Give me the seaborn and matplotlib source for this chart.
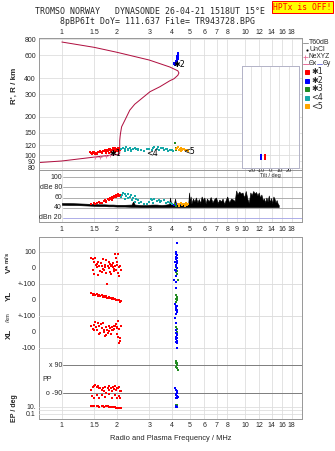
import numpy as np
import pandas as pd
import matplotlib
matplotlib.use("Agg")
import matplotlib.pyplot as plt
import matplotlib.transforms as mtransforms
from matplotlib.lines import Line2D
from matplotlib.ticker import NullLocator, FixedLocator
import seaborn as sns

sns.set_style("white")
plt.rcParams['font.family'] = ['Liberation Sans', 'DejaVu Sans']

# ---------------- data ----------------
freq_ticks = [1, 1.5, 2, 3, 4, 5, 6, 7, 8, 10, 12, 14, 16, 18]
freq_ticks_mid = [1, 1.5, 2, 3, 4, 5, 6, 7, 8, 9, 10, 12, 14, 16, 18]
range_ticks = [800, 600, 400, 300, 200, 150, 120, 100, 90, 80]
dbe_ticks = [100, 80, 60, 40]
dbe_tick_labels = ["100", "dBe 80", "60", "40"]
dbn_level = 20
tilt_ticks = [-20, -10, 0, 10, 20]

# N(h) profile (plasma frequency vs real height)
profile_f = [0.75, 1.0, 1.5, 1.8, 2.05, 2.07, 2.07, 2.08, 2.09, 2.12, 2.21, 2.35, 2.5, 2.67, 3.03,
             3.43, 3.89, 4.1, 4.3, 4.36, 4.3, 4.1, 3.89, 3.0, 2.0, 1.5, 1.0]
profile_r = [88, 90.5, 97, 100, 102, 104, 130, 140, 148, 167, 188, 225, 250, 270, 313,
             342, 381, 395, 420, 438, 455, 470, 487, 552, 634, 693, 762]

nexyz_f = [1.51, 1.62, 1.74, 1.84]
nexyz_r = [97.5, 98, 99, 100]

# echoes: virtual range
e1_f = [1.43, 1.45, 1.47, 1.49, 1.5, 1.52, 1.54, 1.56, 1.58, 1.6, 1.62, 1.64, 1.66, 1.68, 1.7, 1.72,
        1.74, 1.76, 1.78, 1.8, 1.82, 1.84, 1.86, 1.88, 1.9, 1.92, 1.94, 1.96, 1.98, 2.0, 2.02, 2.04,
        2.06, 2.08, 1.46, 1.55, 1.65, 1.75, 1.85, 1.95, 2.03, 1.9, 2.0, 1.8]
e1_r = [106, 105, 107, 104, 106, 103, 104, 105, 106, 107, 108, 107, 106, 109, 108, 110,
        109, 111, 108, 112, 110, 113, 109, 111, 114, 110, 112, 115, 111, 113, 114, 112,
        115, 111, 103, 102, 104, 105, 106, 107, 109, 105, 108, 104]
e2_f = [4.3, 4.3, 4.31, 4.32, 4.3, 4.28, 4.27, 4.26, 4.25, 4.24, 4.22, 4.2, 4.18, 4.16, 4.14,
        4.12, 4.1, 4.08, 4.25, 4.28, 4.3, 4.22, 4.18, 4.15, 4.26, 4.24]
e2_r = [625, 610, 595, 580, 565, 555, 545, 540, 530, 525, 520, 515, 512, 508, 505,
        510, 515, 520, 570, 590, 600, 545, 530, 525, 560, 550]
e3_f = [4.14, 4.2, 4.22, 4.18]
e3_r = [124, 112, 110, 114]
e4_f = [2.1, 2.15, 2.2, 2.25, 2.3, 2.35, 2.4, 2.45, 2.5, 2.55, 2.6, 2.7, 2.8, 2.9, 3.0, 3.1, 3.2,
        3.3, 3.4, 3.5, 3.6, 3.7, 3.8, 3.9, 4.0, 4.05, 2.2, 2.3, 2.4, 2.6, 3.15, 3.35, 3.55, 3.75]
e4_r = [112, 114, 113, 116, 112, 114, 111, 113, 115, 112, 110, 111, 109, 112, 113, 110, 116,
        112, 111, 114, 110, 112, 109, 111, 110, 109, 109, 110, 108, 113, 114, 117, 115, 113]
e5_f = [4.22, 4.28, 4.35, 4.4, 4.45, 4.5, 4.55, 4.6, 4.7, 4.8, 4.9, 4.3, 4.45, 4.65]
e5_r = [112, 114, 110, 113, 111, 114, 110, 112, 111, 110, 109, 116, 108, 113]

# tilt inset
tilt_deg = [-5.2, -9.7]
tilt_lo = [92, 92]
tilt_hi = [102, 102]

# amplitude (dBe)
amp1_f = [1.45, 1.5, 1.55, 1.6, 1.65, 1.7, 1.72, 1.75, 1.78, 1.8, 1.83, 1.85, 1.88, 1.9, 1.93,
          1.95, 1.98, 2.0, 2.02, 2.05, 2.07, 1.52, 1.62, 1.74, 1.87, 1.97, 2.04]
amp1_v = [48, 50, 49, 51, 50, 53, 55, 52, 57, 55, 60, 58, 62, 59, 63, 61, 66, 64, 68, 63, 66,
          47, 49, 54, 56, 62, 65]
amp4_f = [2.1, 2.13, 2.17, 2.2, 2.25, 2.3, 2.35, 2.4, 2.45, 2.5, 2.55, 2.6, 2.65, 2.7, 2.8, 2.9,
          3.0, 3.05, 3.1, 3.2, 3.3, 3.4, 3.5, 3.6, 3.7, 3.8, 3.9, 4.0, 2.2, 2.3, 2.42, 2.52, 3.15, 3.45]
amp4_v = [62, 66, 70, 68, 64, 67, 62, 65, 60, 63, 58, 55, 50, 52, 48, 47, 52, 58, 55, 57, 54,
          56, 53, 55, 50, 52, 49, 48, 58, 60, 55, 52, 50, 51]
amp5_f = [4.22, 4.3, 4.38, 4.45, 4.52, 4.6, 4.68, 4.75, 4.82, 4.9, 4.35, 4.55, 4.7]
amp5_v = [46, 48, 47, 49, 46, 48, 47, 49, 46, 48, 44, 45, 44]
amp2_f = [4.12, 4.18]
amp2_v = [45, 47]
amp3_f = [4.15, 4.2]
amp3_v = [48, 44]

noise_f = [1.0, 1.1, 1.2, 1.3, 1.4, 1.5, 1.6, 1.7, 1.8, 1.9, 2.0, 2.2, 2.4, 2.45, 2.5, 2.7, 2.9,
           3.1, 3.3, 3.5, 3.7, 3.85, 3.9, 3.95, 4.1, 4.15, 4.2, 4.5, 4.9, 4.95, 5.0, 5.05, 5.1,
           5.2, 5.3, 5.4, 5.5, 5.6, 5.7, 5.8, 5.9, 6.0, 6.1, 6.2, 6.35, 6.5, 6.65, 6.8, 6.95,
           7.1, 7.25, 7.4, 7.55, 7.7, 7.85, 8.0, 8.2, 8.4, 8.6, 8.8, 8.95, 9.1, 9.3, 9.5, 9.7,
           9.9, 10.1, 10.3, 10.5, 10.7, 10.9, 11.1, 11.3, 11.5, 11.7, 11.9, 12.1, 12.3, 12.5,
           12.7, 12.9, 13.1, 13.3, 13.5, 13.7, 13.9, 14.1, 14.3, 14.5, 14.7, 14.9, 15.1, 15.3]
noise_hi = [49, 49, 48.5, 48, 47.5, 47, 46.5, 46.5, 46, 46, 45.5, 45.5, 46, 52, 46, 45, 45,
            46, 46, 45, 46, 47, 60, 47, 48, 58, 48, 46, 47, 70, 50, 62, 48,
            58, 52, 60, 50, 57, 49, 62, 55, 60, 48, 58, 52, 61, 50, 57, 60,
            49, 56, 52, 58, 47, 55, 62, 50, 58, 56, 53, 74, 66, 72, 68, 70,
            60, 73, 58, 49, 70, 65, 73, 68, 71, 64, 70, 60, 66, 55, 58,
            50, 60, 52, 64, 50, 59, 48, 62, 58, 50, 55, 48, 45]
noise_lo = [45.5, 45, 45, 44.5, 44, 43.5, 43, 43, 42.5, 42.5, 42, 42, 41.5, 41.5, 41.5, 41, 41,
            41, 41, 41, 41, 41, 41, 41, 41, 41, 41, 41, 41, 41, 41, 41, 41,
            41, 41, 41, 41, 41, 41, 41, 41, 41, 41, 41, 41, 41, 41, 41, 41,
            41, 41, 41, 41, 41, 41, 41, 41, 41, 41, 41, 41, 41, 41, 41, 41,
            41, 41, 41, 41, 41, 41, 41, 41, 41, 41, 41, 41, 41, 41, 41,
            41, 41, 41, 41, 41, 41, 41, 41, 41, 41, 41, 41, 41]

# Doppler velocity V* (m/s)
v1_f = [1.45, 1.47, 1.48, 1.5, 1.52, 1.53, 1.55, 1.56, 1.58, 1.6, 1.62, 1.63, 1.65, 1.67, 1.68,
        1.7, 1.72, 1.73, 1.75, 1.77, 1.78, 1.8, 1.82, 1.83, 1.85, 1.86, 1.88, 1.9, 1.91, 1.93,
        1.95, 1.96, 1.98, 2.0, 2.01, 2.03, 2.05, 2.06, 2.08, 2.1, 1.49, 1.57, 1.74, 1.92, 2.02,
        1.97, 1.84, 1.66]
v1_v = [60, 55, -15, 40, 60, 20, 5, 25, -45, 15, -20, 30, 10, -5, 55, -10, 20, 5, -30, -100,
        15, 35, 0, -25, 10, -40, 20, 5, 30, -5, 85, 10, -15, 40, 20, -30, 5, -50, 15, -10,
        -35, 35, 50, -20, 90, 65, 25, -25]
v2_f = [4.25, 4.2, 4.22, 4.24, 4.18, 4.26, 4.2, 4.23, 4.16, 4.28, 4.21, 4.19, 4.25, 4.15, 4.22,
        4.2, 4.12, 4.18]
v2_v = [158, 100, 90, 80, 70, 65, 55, 45, 35, 30, 20, 10, 0, -10, -20, -50, -75, -85]
v3_f = [4.2, 4.25, 4.22, 4.27, 4.18, 4.24, 4.3]
v3_v = [5, 0, -10, -20, -25, -35, -75]

# YL (km)
y1_f = [1.45, 1.47, 1.5, 1.52, 1.55, 1.57, 1.6, 1.62, 1.65, 1.67, 1.7, 1.72, 1.75, 1.77, 1.8,
        1.82, 1.85, 1.87, 1.9, 1.92, 1.95, 1.97, 2.0, 2.02, 2.05, 2.07, 2.1, 1.48, 1.58, 1.68,
        1.78, 1.88, 1.98, 2.08]
y1_v = [45, 35, 40, 30, 35, 28, 32, 25, 30, 20, 25, 18, 22, 15, 18, 10, 12, 8, 10, 5, 6, 2, 3,
        -2, 0, -5, -8, 30, 22, 28, 12, 15, -3, -10]
y2_f = [4.2, 4.15, 4.22, 4.25, 4.2, 4.18, 4.24, 4.27, 4.21, 4.13, 4.19]
y2_v = [73, -25, -35, -40, -50, -60, -65, -75, -85, -110, -145]
y3_f = [4.2, 4.24, 4.28, 4.22, 4.26, 4.18]
y3_v = [30, 20, 10, 5, 0, -10]

# XL (km)
x1_f = [1.45, 1.47, 1.5, 1.52, 1.53, 1.55, 1.57, 1.6, 1.62, 1.63, 1.65, 1.67, 1.7, 1.72, 1.74,
        1.75, 1.77, 1.8, 1.82, 1.84, 1.85, 1.87, 1.9, 1.92, 1.93, 1.95, 1.97, 2.0, 2.01, 2.02,
        2.03, 2.05, 2.07, 2.08, 2.1, 1.49, 1.59, 1.69, 1.79, 1.89, 1.99, 2.04]
x1_v = [40, 20, 45, 60, 30, 10, 55, 35, -5, 50, 25, 55, 10, -25, 30, -20, 15, 40, 5, 25, -10,
        30, 15, 40, 20, 35, 50, 25, -15, 70, -30, 20, -40, -55, 35, 15, -10, 0, -5, 10, 30, -70]
x2_f = [4.22, 4.2, 4.26, 4.24, 4.18, 4.28, 4.21, 4.25, 4.19, 4.23, 4.27]
x2_v = [10, -5, -15, -20, -30, -35, -45, -55, -65, -70, -100]
x3_f = [4.2, 4.25, 4.22, 4.27, 4.23]
x3_v = [30, 20, 10, 0, -15]

# PP (deg)
p1_f = [1.45, 1.47, 1.5, 1.52, 1.55, 1.58, 1.6, 1.62, 1.65, 1.68, 1.7, 1.72, 1.75, 1.78, 1.8,
        1.82, 1.85, 1.87, 1.9, 1.92, 1.95, 1.97, 2.0, 2.02, 2.05, 2.07, 2.1, 1.46, 1.5, 1.55,
        1.6, 1.65, 1.72, 1.8, 1.88, 1.95, 2.0, 2.05, 2.08]
p1_v = [-70, -50, -45, -40, -50, -45, -60, -55, -70, -60, -80, -50, -90, -60, -45, -70, -55,
        -75, -50, -65, -45, -70, -55, -60, -50, -75, -80, -110, -120, -105, -125, -100, -115,
        -95, -120, -105, -125, -110, -120]
p2_f = [4.15, 4.2, 4.25, 4.28, 4.22, 4.18, 4.24, 4.3, 4.2, 4.26]
p2_v = [-60, -70, -80, -90, -95, -100, -110, -115, -120, -125]
p3_f = [4.2, 4.25, 4.22, 4.28, 4.18, 4.24, 4.3]
p3_v = [118, 105, 100, 90, 80, 70, 58]

# EP (deg)
ep1_f = [1.45, 1.5, 1.55, 1.6, 1.65, 1.7, 1.75, 1.8, 1.85, 1.9, 1.95, 2.0, 2.05, 2.1, 1.48,
         1.58, 1.68, 1.78, 1.88, 1.98, 2.08]
ep1_v = [20, 15, 18, 12, 15, 10, 14, 10, 12, 8, 9, 6, 7, 5, 25, 20, 18, 15, 10, 7, 4]
ep2_f = [4.2, 4.25, 4.22]
ep2_v = [12, 10, 15]
ep3_f = [4.18, 4.24, 4.28]
ep3_v = [35, 30, 40]

# ---------------- style ----------------
C_RED, C_BLUE, C_GREEN, C_TEAL, C_ORANGE = "#ff0000", "#0000ff", "#228b22", "#17a8a8", "#ffa500"
C_PROF = "#b01040"
C_PINK = "#e8709a"
C_FRAME = "#9a9a9a"
C_GRID = "#dcdcdc"
C_DBLINE = "#a8a8a8"
TICK_FS = 7
MONO = "DejaVu Sans Mono"

W, H, DPI = 335, 451, 72
fig = plt.figure(figsize=(W / DPI, H / DPI), dpi=DPI)
fig.patch.set_facecolor("white")


def box(l, t, r, b):
    return [l / W, 1 - b / H, (r - l) / W, (b - t) / H]


def fx(px):
    return px / W


def fy(py):
    return 1 - py / H


XLIM = (0.75, 20.5)


def setup_freq(ax, ticks, where):
    ax.set_xscale("log")
    ax.set_xlim(*XLIM)
    ax.xaxis.set_major_locator(FixedLocator(ticks))
    ax.xaxis.set_minor_locator(NullLocator())
    ax.set_xticklabels([("%g" % t) for t in ticks])
    for t in ticks:
        ax.axvline(t, color=C_GRID, lw=0.8, zorder=0)
    ax.tick_params(axis="x", length=0, labelsize=TICK_FS, pad=2,
                   labeltop=(where == "top"), labelbottom=(where == "bottom"))
    for s in ax.spines.values():
        s.set_color(C_FRAME)
        s.set_linewidth(1)


def scat(ax, x, y, c, s=5):
    sns.scatterplot(x=x, y=y, ax=ax, color=c, marker="s", s=s, linewidth=0, legend=False, zorder=3)


# ---------------- top panel: virtual range ----------------
ax_r = fig.add_axes(box(39, 38, 302, 170))
ax_r.set_yscale("log")
ax_r.set_ylim(77, 819)
setup_freq(ax_r, freq_ticks, "top")
ax_r.yaxis.set_major_locator(FixedLocator(range_ticks))
ax_r.yaxis.set_minor_locator(NullLocator())
ax_r.set_yticklabels([str(t) for t in range_ticks])
ax_r.tick_params(axis="y", length=0, labelsize=TICK_FS, pad=3)
for t in range_ticks:
    ax_r.axhline(t, color=C_GRID, lw=0.8, zorder=0)

prof = pd.DataFrame({"f": profile_f, "r": profile_r})
ax_r.plot(prof["f"], prof["r"], color=C_PROF, lw=1.0, zorder=2)
sns.scatterplot(x=nexyz_f, y=nexyz_r, ax=ax_r, color=C_PINK, marker="+", s=10, linewidth=0.8, legend=False, zorder=3)
scat(ax_r, e1_f, e1_r, C_RED)
scat(ax_r, e4_f, e4_r, C_TEAL)
scat(ax_r, e2_f, e2_r, C_BLUE)
scat(ax_r, e3_f, e3_r, C_GREEN)
scat(ax_r, e5_f, e5_r, C_ORANGE)
lab_kw = dict(fontsize=8, va="center", ha="left", color="black", zorder=5, family=["DejaVu Sans"])
ax_r.text(1.83, 103.4, "✱1", **lab_kw)
ax_r.text(2.88, 103.8, "<4", **lab_kw)
ax_r.text(4.09, 514, "✱2", **lab_kw)
ax_r.text(4.58, 107, "<5", **lab_kw)
ax_r.set_xlabel("")
ax_r.set_ylabel("")

# ---------------- amplitude panel ----------------
ax_a = fig.add_axes(box(39, 170, 302, 222))
ax_a.set_ylim(11.3, 114.8)
setup_freq(ax_a, freq_ticks_mid, "bottom")
ax_a.tick_params(axis="x", pad=4)
ax_a.yaxis.set_major_locator(NullLocator())
trans_a = mtransforms.blended_transform_factory(ax_a.transAxes, ax_a.transData)
xin = (63 - 39) / 263
for t, lab in zip(dbe_ticks, dbe_tick_labels):
    ax_a.axhline(t, xmin=xin, color=C_DBLINE, lw=0.9, zorder=1)
    ax_a.text(xin - 0.004, t, lab, transform=trans_a, ha="right", va="center", fontsize=TICK_FS)
ax_a.axhline(dbn_level, xmin=xin, color="#a6a6e6", lw=0.9, zorder=1)
ax_a.text(xin - 0.004, dbn_level, "dBn 20", transform=trans_a, ha="right", va="center", fontsize=TICK_FS)
ax_a.fill_between(noise_f, noise_lo, noise_hi, color="black", lw=0.6, zorder=2)
scat(ax_a, amp1_f, amp1_v, C_RED)
scat(ax_a, amp4_f, amp4_v, C_TEAL)
scat(ax_a, amp5_f, amp5_v, C_ORANGE)
scat(ax_a, amp2_f, amp2_v, C_BLUE)
scat(ax_a, amp3_f, amp3_v, C_GREEN)
ax_a.set_xlabel("")
ax_a.set_ylabel("")

# tilt inset (drawn above the amplitude panel)
ax_t = fig.add_axes(box(242, 66, 299, 168))
ax_t.set_zorder(10)
ax_t.set_facecolor("white")
ax_t.set_xlim(-30, 31)
ax_t.set_yscale("log")
ax_t.set_ylim(79.7, 496)
ax_t.yaxis.set_major_locator(NullLocator())
ax_t.yaxis.set_minor_locator(NullLocator())
ax_t.set_xticks(tilt_ticks)
ax_t.set_xticklabels([str(t) for t in tilt_ticks])
ax_t.tick_params(axis="x", length=0, labelsize=5.5, pad=0.5)
for t in tilt_ticks:
    ax_t.axvline(t, color=C_GRID, lw=0.8, zorder=0)
for r in [120, 100]:
    ax_t.axhline(r, color=C_GRID, lw=0.8, zorder=0)
ax_t.vlines(tilt_deg[0], tilt_lo[0], tilt_hi[0], color=C_RED, lw=2)
ax_t.vlines(tilt_deg[1], tilt_lo[1], tilt_hi[1], color=C_BLUE, lw=2)
ax_t.set_xlabel("Tilt / deg", fontsize=5.5, labelpad=0)
for s in ax_t.spines.values():
    s.set_color("#b4b4c8")
    s.set_linewidth(1)

# ---------------- lower panel ----------------
LOW = box(39, 237, 302, 419)
ax_v = fig.add_axes(LOW)
setup_freq(ax_v, freq_ticks, "bottom")
ax_v.tick_params(axis="x", pad=3)
ax_v.set_ylim(-943.75, 193.75)
ax_v.set_yticks([100, 0, -100])
ax_v.set_yticklabels(["100", "0", "+-100"])
ax_v.tick_params(axis="y", length=0, labelsize=TICK_FS, pad=3)
ax_v.axhline(100, color=C_GRID, lw=0.9, zorder=0)
ax_v.axhline(-100, color=C_GRID, lw=0.9, zorder=0)
ax_v.set_xlabel("Radio and Plasma Frequency / MHz", fontsize=7.5, labelpad=6)

def overlay(ylim, scale="linear"):
    ax = fig.add_axes(LOW, sharex=ax_v)
    ax.set_facecolor("none")
    ax.set_yscale(scale)
    ax.set_ylim(*ylim)
    for s in ax.spines.values():
        s.set_visible(False)
    ax.tick_params(axis="x", which="both", length=0, labelbottom=False, labeltop=False)
    ax.tick_params(axis="y", which="both", length=0, labelsize=TICK_FS, pad=3)
    ax.yaxis.set_minor_locator(NullLocator())
    return ax

ax_yl = overlay((-743.75, 393.75))
ax_yl.set_yticks([0, -100])
ax_yl.set_yticklabels(["0", "+-100"])
ax_yl.axhline(-100, color=C_GRID, lw=0.9, zorder=0)

ax_xl = overlay((-543.75, 593.75))
ax_xl.set_yticks([0, -100])
ax_xl.set_yticklabels(["0", "-100"])
ax_xl.axhline(-100, color=C_GRID, lw=0.9, zorder=0)

ax_pp = overlay((-257.1, 912.9))
ax_pp.yaxis.set_major_locator(NullLocator())
trans_p = mtransforms.blended_transform_factory(ax_pp.transAxes, ax_pp.transData)
for t, lab in [(90, "x 90"), (-90, "o -90")]:
    ax_pp.axhline(t, xmin=xin, color="#808080", lw=1, zorder=1)
    ax_pp.text(xin - 0.004, t, lab, transform=trans_p, ha="right", va="center", fontsize=TICK_FS)
ax_pp.text(0.014, 0, "PP", transform=trans_p, ha="left", va="center", fontsize=TICK_FS)

ax_ep = overlay((10 ** -2.43, 10 ** 49.57), "log")
ax_ep.set_yticks([10, 0.1])
ax_ep.set_yticklabels(["10.", "0.1"])
ax_ep.yaxis.set_minor_locator(NullLocator())
for t in [10, 1, 0.1]:
    ax_ep.axhline(t, color=C_GRID, lw=0.8, zorder=0)

scat(ax_v, v1_f, v1_v, C_RED)
scat(ax_v, v3_f, v3_v, C_GREEN)
scat(ax_v, v2_f, v2_v, C_BLUE)
scat(ax_yl, y1_f, y1_v, C_RED)
scat(ax_yl, y3_f, y3_v, C_GREEN)
scat(ax_yl, y2_f, y2_v, C_BLUE)
scat(ax_xl, x1_f, x1_v, C_RED)
scat(ax_xl, x3_f, x3_v, C_GREEN)
scat(ax_xl, x2_f, x2_v, C_BLUE)
scat(ax_pp, p1_f, p1_v, C_RED)
scat(ax_pp, p3_f, p3_v, C_GREEN)
scat(ax_pp, p2_f, p2_v, C_BLUE)
scat(ax_ep, ep1_f, ep1_v, C_RED)
scat(ax_ep, ep3_f, ep3_v, C_GREEN)
scat(ax_ep, ep2_f, ep2_v, C_BLUE)
for ax in [ax_yl, ax_xl, ax_pp, ax_ep]:
    ax.set_xlabel("")
    ax.set_ylabel("")
ax_v.set_ylabel("")

# ---------------- side labels ----------------
fig.text(fx(14), fy(86), "R', R / km", rotation=90, ha="center", va="center", fontsize=8, weight="bold")
fig.text(fx(9), fy(263), "V* $\\mathregular{^{m/s}}$", rotation=90, ha="center", va="center", fontsize=8, weight="bold")
fig.text(fx(9), fy(296), "YL", rotation=90, ha="center", va="center", fontsize=8, weight="bold")
fig.text(fx(8), fy(318), "/km", rotation=90, ha="center", va="center", fontsize=5.5)
fig.text(fx(9), fy(334), "XL", rotation=90, ha="center", va="center", fontsize=8, weight="bold")
fig.text(fx(15), fy(408), "EP / deg", rotation=90, ha="center", va="center", fontsize=7, weight="bold")

# ---------------- title ----------------
fig.text(fx(35), fy(12), "TROMSO NORWAY   DYNASONDE 26-04-21 1518UT 15°E", family=MONO, fontsize=8.2, va="center", ha="left")
fig.text(fx(60), fy(21), "8pBP6It DoY= 111.637 File= TR943728.BPG", family=MONO, fontsize=8.2, va="center", ha="left")
fig.text(fx(302.5), fy(7), "HPTx is OFF!", family=MONO, fontsize=8, color="#ff0000", ha="center", va="center",
         bbox=dict(facecolor="#ffff00", edgecolor="#ff0000", boxstyle="square,pad=0.15", lw=1))

# ---------------- legend ----------------
lfs = 7
fig.add_artist(Line2D([fx(303), fx(308)], [fy(42.5)] * 2, color="#999999", lw=1))
fig.text(fx(309), fy(42.5), "T60dB", fontsize=lfs, va="center", ha="left")
fig.add_artist(Line2D([fx(306.5)], [fy(49.5)], marker="s", ms=1, color="black", lw=0))
fig.text(fx(310), fy(49.5), "UnCl", fontsize=lfs, va="center", ha="left")
fig.add_artist(Line2D([fx(305)], [fy(56.5)], marker="+", ms=5, color=C_PINK, lw=0, mew=0.8))
fig.text(fx(308.5), fy(56.5), "NeXYZ", fontsize=6.6, va="center", ha="left")
fig.add_artist(Line2D([fx(302.5), fx(308.5)], [fy(63.5)] * 2, color=C_PINK, lw=1))
fig.text(fx(308.5), fy(63.5), "Θx", fontsize=6.5, va="center", ha="left")
fig.add_artist(Line2D([fx(317), fx(322)], [fy(63.5)] * 2, color="#8080e0", lw=1))
fig.text(fx(322.5), fy(63.5), "Θy", fontsize=6.5, va="center", ha="left")
for yy, col, lab in [(72, C_RED, "✱1"), (80.5, C_BLUE, "✱2"), (89, C_GREEN, "✱3"),
                     (97.5, C_TEAL, "<4"), (106, C_ORANGE, "<5")]:
    fig.add_artist(Line2D([fx(307)], [fy(yy)], marker="s", ms=3.5, color=col, lw=0))
    fig.text(fx(311), fy(yy), lab, fontsize=8, va="center", ha="left", family=["DejaVu Sans"])

fig.savefig("out.png", dpi=DPI)
